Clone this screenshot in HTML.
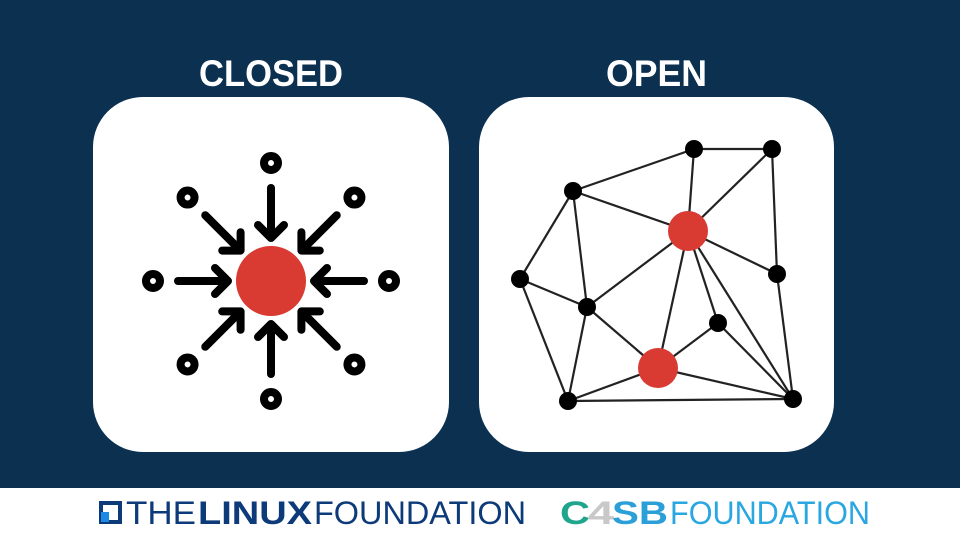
<!DOCTYPE html>
<html><head><meta charset="utf-8"><style>
html,body{margin:0;padding:0;width:960px;height:540px;overflow:hidden;background:#fff}
</style></head><body>
<svg width="960" height="540" viewBox="0 0 960 540" xmlns="http://www.w3.org/2000/svg">
<rect x="0" y="0" width="960" height="488" fill="#0b3050"/>
<text x="199" y="86" font-family="Liberation Sans, sans-serif" font-weight="bold" font-size="37" fill="#fff" textLength="144" lengthAdjust="spacingAndGlyphs">CLOSED</text>
<text x="606" y="86" font-family="Liberation Sans, sans-serif" font-weight="bold" font-size="37" fill="#fff" textLength="101" lengthAdjust="spacingAndGlyphs">OPEN</text>
<rect x="93" y="97" width="356" height="355" rx="50" fill="#fff"/>
<rect x="479" y="97" width="355" height="355" rx="50" fill="#fff"/>
<g fill="none" stroke="#000" stroke-width="8" stroke-linecap="round" stroke-linejoin="round">
<g id="arm">
<circle cx="271" cy="163" r="7"/>
<line x1="271" y1="188" x2="271" y2="237"/>
<polyline points="258,225 271,238 284,225"/>
</g>
<use href="#arm" transform="rotate(45 271 281)"/>
<use href="#arm" transform="rotate(90 271 281)"/>
<use href="#arm" transform="rotate(135 271 281)"/>
<use href="#arm" transform="rotate(180 271 281)"/>
<use href="#arm" transform="rotate(225 271 281)"/>
<use href="#arm" transform="rotate(270 271 281)"/>
<use href="#arm" transform="rotate(315 271 281)"/>
</g>
<circle cx="271" cy="281" r="35" fill="#d93a31"/>
<g stroke="#222" stroke-width="2.2">
<line x1="573" y1="191" x2="694" y2="149"/>
<line x1="694" y1="149" x2="772" y2="149"/>
<line x1="694" y1="149" x2="688" y2="231"/>
<line x1="772" y1="149" x2="688" y2="231"/>
<line x1="772" y1="149" x2="777" y2="274"/>
<line x1="777" y1="274" x2="793" y2="399"/>
<line x1="688" y1="231" x2="777" y2="274"/>
<line x1="573" y1="191" x2="688" y2="231"/>
<line x1="573" y1="191" x2="520" y2="279"/>
<line x1="573" y1="191" x2="587" y2="307"/>
<line x1="520" y1="279" x2="587" y2="307"/>
<line x1="520" y1="279" x2="568" y2="401"/>
<line x1="587" y1="307" x2="688" y2="231"/>
<line x1="587" y1="307" x2="658" y2="368"/>
<line x1="587" y1="307" x2="568" y2="401"/>
<line x1="688" y1="231" x2="658" y2="368"/>
<line x1="688" y1="231" x2="718" y2="323"/>
<line x1="688" y1="231" x2="793" y2="399"/>
<line x1="718" y1="323" x2="658" y2="368"/>
<line x1="718" y1="323" x2="793" y2="399"/>
<line x1="658" y1="368" x2="568" y2="401"/>
<line x1="658" y1="368" x2="793" y2="399"/>
<line x1="568" y1="401" x2="793" y2="399"/>
</g>
<g fill="#000">
<circle cx="694" cy="149" r="9"/><circle cx="772" cy="149" r="9"/>
<circle cx="573" cy="191" r="9"/><circle cx="520" cy="279" r="9"/>
<circle cx="777" cy="274" r="9"/><circle cx="587" cy="307" r="9"/>
<circle cx="718" cy="323" r="9"/><circle cx="568" cy="401" r="9"/>
<circle cx="793" cy="399" r="9"/>
</g>
<circle cx="688" cy="231" r="20" fill="#d93a31"/>
<circle cx="658" cy="368" r="20" fill="#d93a31"/>
<g>
<rect x="101" y="503" width="19" height="19" fill="none" stroke="#0d3a78" stroke-width="4"/>
<rect x="101" y="512" width="8" height="10" fill="#1e88e5"/>
<text x="126" y="524" font-family="Liberation Sans, sans-serif" font-size="32" fill="#0d3a78" textLength="70" lengthAdjust="spacingAndGlyphs">THE</text>
<text x="198" y="524" font-family="Liberation Sans, sans-serif" font-weight="bold" font-size="32" fill="#0d3a78" textLength="114" lengthAdjust="spacingAndGlyphs">LINUX</text>
<text x="314" y="524" font-family="Liberation Sans, sans-serif" font-size="32" fill="#0d3a78" textLength="212" lengthAdjust="spacingAndGlyphs">FOUNDATION</text>
<text x="560" y="524" font-family="Liberation Sans, sans-serif" font-weight="bold" font-size="32" fill="#1fa58c" textLength="30" lengthAdjust="spacingAndGlyphs">C</text>
<text x="588" y="524" font-family="Liberation Sans, sans-serif" font-weight="bold" font-size="32" fill="#c8c8c8" textLength="26" lengthAdjust="spacingAndGlyphs">4</text>
<text x="612" y="524" font-family="Liberation Sans, sans-serif" font-weight="bold" font-size="32" fill="#2a9fd8" textLength="56" lengthAdjust="spacingAndGlyphs">SB</text>
<text x="670" y="524" font-family="Liberation Sans, sans-serif" font-size="32" fill="#2aa7e0" textLength="200" lengthAdjust="spacingAndGlyphs">FOUNDATION</text>
</g>
</svg>
</body></html>
